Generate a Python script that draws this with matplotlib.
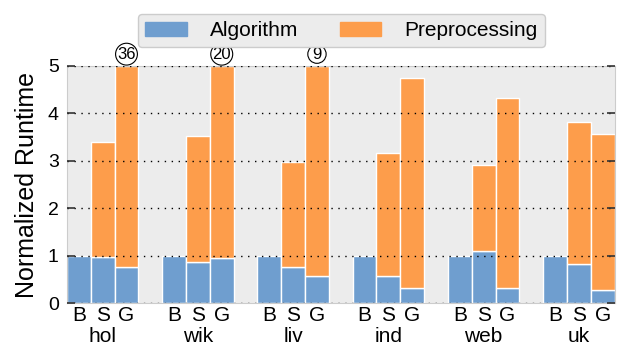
import numpy as np
import matplotlib; matplotlib.use("Agg")
import matplotlib.pyplot as plt
import matplotlib.transforms as mtrans

plt.rcParams['font.family'] = ['Liberation Sans', 'DejaVu Sans']

graphs = ["hol", "wik", "liv", "ind", "web", "uk"]
systems = ["B", "S", "G"]
# algorithm part of normalized runtime (per graph: B, S, G)
algo = [[1.0, 0.98, 0.77],
        [1.0, 0.87, 0.95],
        [1.0, 0.77, 0.58],
        [1.0, 0.57, 0.33],
        [1.0, 1.11, 0.32],
        [1.0, 0.82, 0.28]]
# total normalized runtime (algorithm + preprocessing)
total = [[1.0, 3.39, 36],
         [1.0, 3.52, 20],
         [1.0, 2.97, 9],
         [1.0, 3.17, 4.75],
         [1.0, 2.92, 4.32],
         [1.0, 3.81, 3.56]]
YMAX = 5

BLUE = "#6f9ecf"; ORANGE = "#fd9d4b"

fig = plt.figure(figsize=(6.23, 3.49), dpi=100)
ax = fig.add_axes([0.1075, 0.131, 0.879, 0.68])
ax.set_facecolor("#ececec")

xs, labels = [], []
for i, g in enumerate(graphs):
    for j, s in enumerate(systems):
        x = 4 * i + j
        a = algo[i][j]; t = total[i][j]
        ax.bar(x, a, width=1.0, color=BLUE, edgecolor="white", lw=1)
        if t > a:
            ax.bar(x, min(t, YMAX) - a, bottom=a, width=1.0, color=ORANGE,
                   edgecolor="white", lw=1)
        if t > YMAX:
            ax.annotate(str(t), (x, YMAX), xytext=(0, 8.5), textcoords="offset points",
                        ha="center", va="center", fontsize=12,
                        bbox=dict(boxstyle="circle,pad=0.1", fc="white", ec="black", lw=0.8),
                        annotation_clip=False)
        xs.append(x); labels.append(s)

trans = mtrans.blended_transform_factory(ax.transData, ax.transAxes)
for i, g in enumerate(graphs):
    ax.text(4 * i + 1, -0.142, g, transform=trans, ha="center", va="center", fontsize=15)

ax.set_xlim(-0.5, 22.5)
ax.set_ylim(0, YMAX)
ax.set_xticks(xs)
ax.set_xticklabels(labels, fontsize=15)
ax.tick_params(axis="x", length=0, pad=2)
ax.set_yticks(range(0, 6))
ax.tick_params(axis="y", labelsize=14, direction="in", length=6, width=1.2,
               right=True, color="#333333", pad=6)
ax.set_ylabel("Normalized Runtime", fontsize=18, labelpad=6)
ax.grid(axis="y", color="black", ls=(0, (1, 4)), lw=1)
ax.set_axisbelow(False)
for sp in ax.spines.values():
    sp.set_color("#cccccc")

h1 = plt.Rectangle((0, 0), 1, 1, color=BLUE)
h2 = plt.Rectangle((0, 0), 1, 1, color=ORANGE)
fig.legend([h1, h2], ["Algorithm", "Preprocessing"], loc="upper center",
           bbox_to_anchor=(0.548, 0.99), ncol=2, fontsize=15, frameon=True,
           facecolor="#ececec", edgecolor="#cccccc", framealpha=1,
           handlelength=2.0, columnspacing=2.0, handletextpad=1.1,
           borderpad=0.35)

fig.savefig("out.png", dpi=100)
